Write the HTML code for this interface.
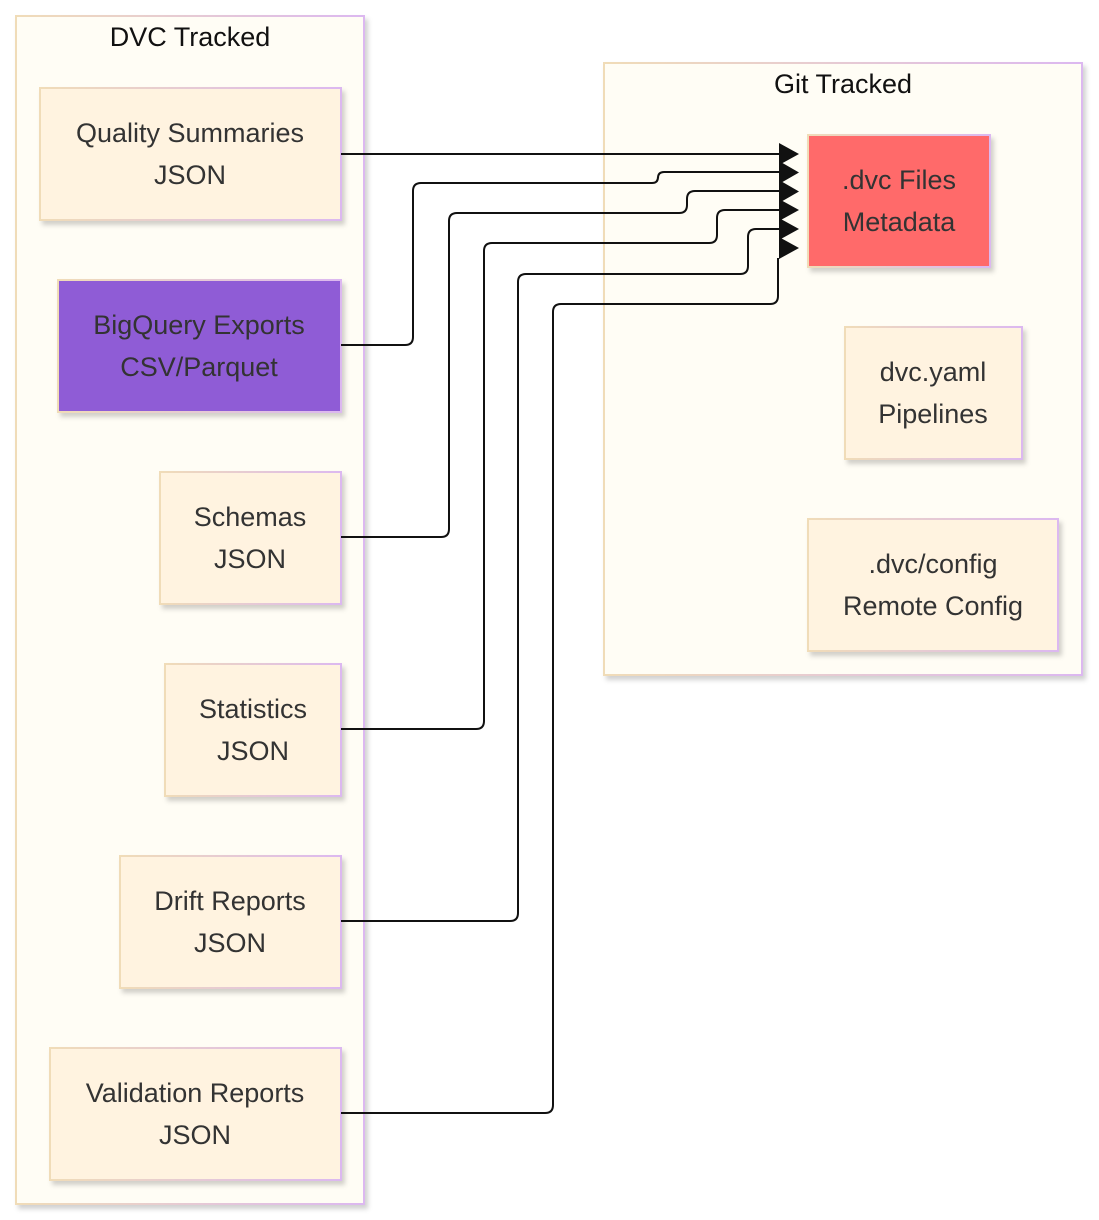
<!DOCTYPE html>
<html><head><meta charset="utf-8"><style>
html,body{margin:0;padding:0;background:#fff;}
svg{display:block;}
text{font-family:"Liberation Sans",Arial,sans-serif;font-size:27px;fill:#333;text-anchor:middle;}
</style></head><body>
<svg width="1099" height="1220" viewBox="0 0 1099 1220" xmlns="http://www.w3.org/2000/svg">
<defs>
<linearGradient id="bd" x1="0" y1="0" x2="1" y2="0"><stop offset="0" stop-color="#f0dcb8"/><stop offset="1" stop-color="#dcb8f0"/></linearGradient>
<filter id="sh" x="-10%" y="-10%" width="130%" height="130%"><feDropShadow dx="3" dy="4" stdDeviation="2.5" flood-color="#000" flood-opacity="0.18"/></filter>
</defs>
<rect x="16" y="16" width="348" height="1188" fill="#fffdf5" stroke="url(#bd)" stroke-width="2" filter="url(#sh)"/>
<text x="190" y="46" style="fill:#111">DVC Tracked</text>
<rect x="604" y="63" width="478" height="612" fill="#fffdf5" stroke="url(#bd)" stroke-width="2" filter="url(#sh)"/>
<text x="843" y="93" style="fill:#111">Git Tracked</text>
<g stroke="url(#bd)" stroke-width="2" filter="url(#sh)">
<rect x="40" y="88" width="301" height="132" fill="#fff3e0"/>
<rect x="58" y="280" width="283" height="132" fill="#8f5bd6"/>
<rect x="160" y="472" width="181" height="132" fill="#fff3e0"/>
<rect x="165" y="664" width="176" height="132" fill="#fff3e0"/>
<rect x="120" y="856" width="221" height="132" fill="#fff3e0"/>
<rect x="50" y="1048" width="291" height="132" fill="#fff3e0"/>
<rect x="808" y="135" width="182" height="132" fill="#ff6b6b"/>
<rect x="845" y="327" width="177" height="132" fill="#fff3e0"/>
<rect x="808" y="519" width="250" height="132" fill="#fff3e0"/>
</g>
<text x="190" y="142">Quality Summaries</text><text x="190" y="184">JSON</text>
<text x="199" y="334">BigQuery Exports</text><text x="199" y="376">CSV/Parquet</text>
<text x="250" y="526">Schemas</text><text x="250" y="568">JSON</text>
<text x="253" y="718">Statistics</text><text x="253" y="760">JSON</text>
<text x="230" y="910">Drift Reports</text><text x="230" y="952">JSON</text>
<text x="195" y="1102">Validation Reports</text><text x="195" y="1144">JSON</text>
<text x="899" y="189">.dvc Files</text><text x="899" y="231">Metadata</text>
<text x="933" y="381">dvc.yaml</text><text x="933" y="423">Pipelines</text>
<text x="933" y="573">.dvc/config</text><text x="933" y="615">Remote Config</text>
<g fill="none" stroke="#111" stroke-width="2">
<path d="M341 154 H780"/>
<path d="M341 345 H405 Q413 345 413 337 V191 Q413 183 421 183 H652 Q658 183 658 177 V178 Q658 172 664 172 H780"/>
<path d="M341 537 H441 Q449 537 449 529 V221 Q449 213 457 213 H679 Q687 213 687 205 V199 Q687 191 695 191 H780"/>
<path d="M341 729 H476 Q484 729 484 721 V251 Q484 243 492 243 H709 Q717 243 717 235 V218 Q717 210 725 210 H780"/>
<path d="M341 921 H510 Q518 921 518 913 V282 Q518 274 526 274 H740 Q748 274 748 266 V237 Q748 229 756 229 H780"/>
<path d="M341 1113 H545 Q553 1113 553 1105 V312 Q553 304 561 304 H770 Q778 304 778 296 V258"/>
</g>
<g fill="#111">
<path d="M779 143 L799 154 L779 165 Z"/>
<path d="M779 161 L799 172.5 L779 184 Z"/>
<path d="M779 180 L799 191.5 L779 203 Z"/>
<path d="M779 199 L799 210 L779 221 Z"/>
<path d="M779 218 L799 229 L779 240 Z"/>
<path d="M779 237 L799 248 L779 259 Z"/>
</g>
</svg>
</body></html>
